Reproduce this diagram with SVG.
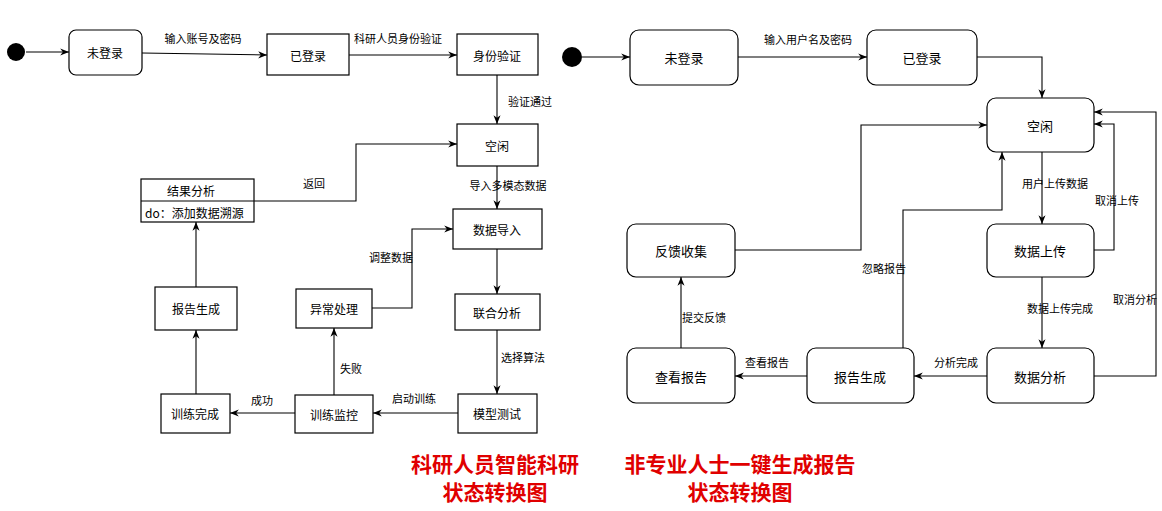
<svg xmlns="http://www.w3.org/2000/svg" width="1162" height="511" viewBox="0 0 1162 511">
<style>
.n{fill:#fff;stroke:#000;stroke-width:1.2}
.t{font-family:"Noto Sans CJK SC",sans-serif;font-size:12px;text-anchor:middle;dominant-baseline:central}
.l{font-family:"Noto Sans CJK SC",sans-serif;font-size:11px;text-anchor:middle;dominant-baseline:central}
.r{font-family:"Noto Sans CJK SC",sans-serif;font-size:13px;text-anchor:middle;dominant-baseline:central}
.c{fill:none;stroke:#000;stroke-width:1.1;marker-end:url(#a)}
.h{font-family:"Noto Sans CJK SC",sans-serif;font-size:21px;font-weight:bold;fill:#e00000;text-anchor:middle}
</style>
<defs><marker id="a" viewBox="0 0 10 10" refX="10" refY="5" markerWidth="8" markerHeight="8" orient="auto"><path d="M0,1 L10,5 L0,9 L3,5 Z" fill="#000"/></marker></defs>
<rect width="1162" height="511" fill="#fff"/>
<g id="connectors">
<path class="c" d="M26,52 H69"/>
<path class="c" d="M142,53 L267,55"/>
<path class="c" d="M349,55 H457"/>
<path class="c" d="M497,75 V124"/>
<path class="c" d="M497,166 V209"/>
<path class="c" d="M497,249 V294"/>
<path class="c" d="M497,330 V394"/>
<path class="c" d="M458,413 H373"/>
<path class="c" d="M295,413 H230"/>
<path class="c" d="M334,395 V328"/>
<path class="c" d="M372,308 H412 V229 H453"/>
<path class="c" d="M196,394 V330"/>
<path class="c" d="M196,287 V222"/>
<path class="c" d="M254,201 H356 V144 H457"/>
<path class="c" d="M582,57 H630"/>
<path class="c" d="M738,57 H867"/>
<path class="c" d="M977,57 H1042 V98"/>
<path class="c" d="M1042,152 V224"/>
<path class="c" d="M1094,250 H1114 V124 H1094"/>
<path class="c" d="M1094,376 H1156 V112 H1094"/>
<path class="c" d="M1042,277 V348"/>
<path class="c" d="M987,376 H914"/>
<path class="c" d="M807,376 H735"/>
<path class="c" d="M903,348 V210 H1002 V152"/>
<path class="c" d="M681,348 V277"/>
<path class="c" d="M735,250 H861 V125 H987"/>
</g>
<g>
<text class="l" x="203" y="38">输入账号及密码</text>
<text class="l" x="398" y="38">科研人员身份验证</text>
<text class="l" x="530" y="101">验证通过</text>
<text class="l" x="508" y="185">导入多模态数据</text>
<text class="l" x="523" y="357">选择算法</text>
<text class="l" x="414" y="398">启动训练</text>
<text class="l" x="262" y="400">成功</text>
<text class="l" x="351" y="368">失败</text>
<text class="l" x="391" y="257">调整数据</text>
<text class="l" x="314" y="183">返回</text>
<text class="l" x="808" y="39">输入用户名及密码</text>
<text class="l" x="1055" y="183">用户上传数据</text>
<text class="l" x="1117" y="200">取消上传</text>
<text class="l" x="1135" y="299">取消分析</text>
<text class="l" x="1060" y="308">数据上传完成</text>
<text class="l" x="956" y="362">分析完成</text>
<text class="l" x="767" y="362">查看报告</text>
<text class="l" x="884" y="268">忽略报告</text>
<text class="l" x="704" y="317">提交反馈</text>
</g>
<circle id="start1" cx="16" cy="52" r="9" fill="#000"/>
<g id="L1"><rect class="n" x="69" y="30" width="73" height="45" rx="7"/><text class="t" x="105" y="52">未登录</text></g>
<g id="L2"><rect class="n" x="267" y="34" width="82" height="41"/><text class="t" x="308" y="55">已登录</text></g>
<g id="L3"><rect class="n" x="457" y="34" width="81" height="41"/><text class="t" x="497" y="55">身份验证</text></g>
<g id="L4"><rect class="n" x="457" y="124" width="81" height="42"/><text class="t" x="497" y="145">空闲</text></g>
<g id="L5"><rect class="n" x="453" y="209" width="89" height="40"/><text class="t" x="497" y="229">数据导入</text></g>
<g id="L6"><rect class="n" x="455" y="294" width="85" height="36"/><text class="t" x="497" y="312">联合分析</text></g>
<g id="L7"><rect class="n" x="458" y="394" width="79" height="39"/><text class="t" x="497" y="413">模型测试</text></g>
<g id="L8"><rect class="n" x="295" y="395" width="78" height="38"/><text class="t" x="334" y="414">训练监控</text></g>
<g id="L9"><rect class="n" x="161" y="394" width="69" height="39"/><text class="t" x="195" y="413">训练完成</text></g>
<g id="L10"><rect class="n" x="296" y="289" width="76" height="39"/><text class="t" x="334" y="308">异常处理</text></g>
<g id="L11"><rect class="n" x="155" y="287" width="82" height="43"/><text class="t" x="196" y="308">报告生成</text></g>
<g id="L12"><rect class="n" x="141" y="179" width="113" height="43"/><line x1="141" y1="201" x2="254" y2="201" stroke="#000" stroke-width="1.2"/><text class="t" x="191" y="190">结果分析</text><text class="t" x="145" y="212" style="text-anchor:start">do：添加数据溯源</text></g>
<circle id="start2" cx="572" cy="57" r="10" fill="#000"/>
<g id="R1"><rect class="n" x="630" y="30" width="108" height="55" rx="9"/><text class="r" x="684" y="57">未登录</text></g>
<g id="R2"><rect class="n" x="867" y="30" width="110" height="55" rx="9"/><text class="r" x="922" y="57">已登录</text></g>
<g id="R3"><rect class="n" x="987" y="98" width="107" height="54" rx="9"/><text class="r" x="1040" y="125">空闲</text></g>
<g id="R4"><rect class="n" x="987" y="224" width="107" height="53" rx="9"/><text class="r" x="1040" y="250">数据上传</text></g>
<g id="R5"><rect class="n" x="987" y="348" width="107" height="55" rx="9"/><text class="r" x="1040" y="376">数据分析</text></g>
<g id="R6"><rect class="n" x="807" y="348" width="107" height="55" rx="9"/><text class="r" x="860" y="376">报告生成</text></g>
<g id="R7"><rect class="n" x="627" y="348" width="108" height="55" rx="9"/><text class="r" x="681" y="376">查看报告</text></g>
<g id="R8"><rect class="n" x="627" y="224" width="108" height="53" rx="9"/><text class="r" x="681" y="250">反馈收集</text></g>
<text class="h" x="495" y="472">科研人员智能科研</text>
<text class="h" x="495" y="500">状态转换图</text>
<text class="h" x="740" y="472">非专业人士一键生成报告</text>
<text class="h" x="740" y="500">状态转换图</text>
</svg>
